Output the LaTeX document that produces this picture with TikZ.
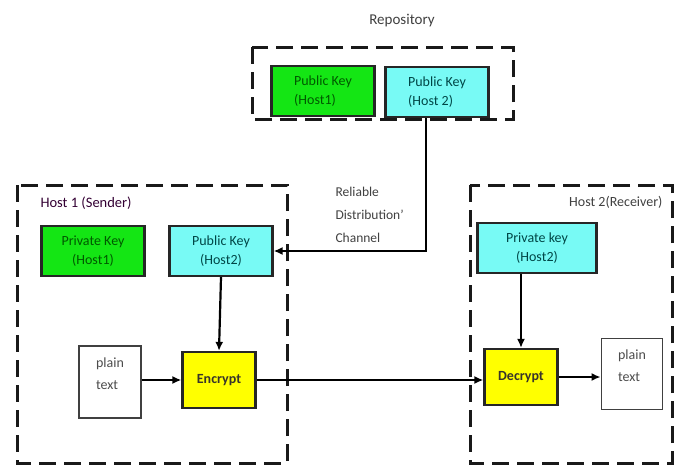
\documentclass[tikz,border=0pt]{standalone}
\usepackage{fontspec}
\setmainfont{Carlito}
\usepackage{xcolor}
\usetikzlibrary{arrows.meta, positioning, calc}

\definecolor{keygreen}{RGB}{20,230,20}
\definecolor{keycyan}{RGB}{120,250,245}
\definecolor{boxyellow}{RGB}{255,255,0}

\begin{document}
\begin{tikzpicture}[x=1pt, y=-1pt,
    keybox/.style={draw=black!85, line width=2.2pt, minimum width=103pt, minimum height=50pt, font=\fontsize{14}{19}\selectfont},
    stagebox/.style={draw=black!85, line width=2.2pt, fill=boxyellow, minimum width=73pt, minimum height=56pt, font=\bfseries\fontsize{14}{16}\selectfont, text=black!80!olive},
    textbox/.style={draw=black!75, line width=1.8pt, minimum width=62pt, minimum height=72pt, align=left, font=\fontsize{14}{22}\selectfont, text=black!70},
    hostframe/.style={draw=black!90, line width=3pt, dash pattern=on 17pt off 8pt},
    flow/.style={line width=2.2pt, -{Latex[length=9pt,width=8pt]}}
]
    \useasboundingbox (0,0) rectangle (681,467);

    % Frames
    \draw[hostframe] (252,47) rectangle (513,119);
    \draw[hostframe] (17,185) rectangle (287,463);
    \draw[hostframe] (470,185) rectangle (672,463);

    % Frame titles
    \node[font=\fontsize{15}{18}\selectfont, text=black!75] (repo) at (402,21) {Repository};
    \node[font=\fontsize{14.5}{17}\selectfont, text=black!60!violet, anchor=west] (host1) at (37,203) {Host 1 (Sender)};
    \node[font=\fontsize{14}{17}\selectfont, text=black!75, anchor=east] (host2) at (666,202) {Host 2(Receiver)};

    % Repository keys
    \node[keybox, fill=keygreen, align=left, text=green!35!black] (rk1) at (323,91) {Public Key\\(Host1)};
    \node[keybox, fill=keycyan, align=left, text=teal!55!black] (rk2) at (437,92) {Public Key\\(Host 2)};

    % Host 1 keys
    \node[keybox, fill=keygreen, align=center, text=green!35!black] (sk1) at (93,251) {Private Key\\(Host1)};
    \node[keybox, fill=keycyan, align=center, text=teal!55!black] (pk2) at (221,251) {Public Key\\(Host2)};

    % Host 2 key
    \node[keybox, fill=keycyan, align=center, text=teal!55!black, minimum width=119pt] (sk2) at (537,248) {Private key\\(Host2)};

    % Encrypt / decrypt
    \node[stagebox] (enc) at (219,380) {Encrypt};
    \node[stagebox] (dec) at (521,377) {Decrypt};

    % Plain text boxes
    \node[textbox] (pt1) at (110,382) {plain\\text\\[-5pt]};
    \node[textbox, minimum width=61pt, minimum height=71pt] (pt2) at (632,374) {plain\\text\\[-5pt]};

    % Distribution channel
    \coordinate (bend) at ($(rk2.south)+(-11,0)$);
    \draw[flow] (bend) |- (pk2.east);
    \node[font=\fontsize{13.5}{23}\selectfont, text=black!75, align=left, anchor=north west] (chan) at (332,184) {Reliable\\Distribution'\\Channel};

    % Data flow
    \draw[flow] (pk2.south) -- (enc.north);
    \draw[flow] (pt1.east |- enc.west) -- (enc.west);
    \draw[flow] (enc.east) -- (enc.east -| dec.west);
    \draw[flow] (sk2.south -| dec.north) -- (dec.north);
    \draw[flow] (dec.east) -- (dec.east -| pt2.west);
\end{tikzpicture}
\end{document}
